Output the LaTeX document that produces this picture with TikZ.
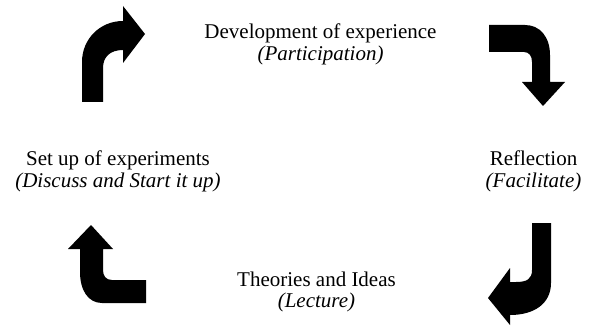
\documentclass[tikz,border=0pt]{standalone}
\usepackage{fontspec}
\setmainfont{Liberation Serif}
\begin{document}
\begin{tikzpicture}[x=1pt,y=-1pt,
  lbl/.style={inner sep=0pt,anchor=base,font=\fontsize{21}{25}\selectfont},
  ilbl/.style={lbl,font=\fontsize{21}{25}\selectfont\itshape},
  bigarrow/.style={fill=black,draw=none}]
\useasboundingbox (0,0) rectangle (589,326);
% text labels
\node[lbl]  (dev)  at (320.5,39) {Development of experience};
\node[ilbl] (devi) at (320.5,60.5) {(Participation)};
\node[lbl]  (set)  at (118,165.5) {Set up of experiments};
\node[ilbl] (seti) at (118,187) {(Discuss and Start it up)};
\node[lbl]  (ref)  at (533.5,165.5) {Reflection};
\node[ilbl] (refi) at (533.5,187) {(Facilitate)};
\node[lbl]  (the)  at (316.5,286) {Theories and Ideas};
\node[ilbl] (thei) at (316.5,307) {(Lecture)};
% arrow 1: top-left, up then right
\fill[bigarrow] (82,102) -- (82,62) .. controls (82,39) and (100,21) .. (123,21)
  -- (123,6) -- (145,34) -- (123,63) -- (123,50)
  .. controls (110,50) and (103,57) .. (103,68) -- (103,102) -- cycle;
% arrow 2: top-right, right then down
\fill[bigarrow] (489,25) -- (525,25) .. controls (540,25) and (550,37) .. (550,55)
  -- (550,82) -- (565,82) -- (543,106) -- (522,82) -- (532,82) -- (532,62)
  .. controls (532,56) and (529,52) .. (524,52) -- (489,52) -- cycle;
% arrow 3: bottom-right, down then left
\fill[bigarrow] (532,223) -- (551,223) -- (551,283) .. controls (551,303) and (535,315) .. (510,315)
  -- (510,325) -- (488,298) -- (510,268) -- (510,282) -- (516,282)
  .. controls (527,282) and (532,279) .. (532,270) -- cycle;
% arrow 4: bottom-left, left then up
\fill[bigarrow] (146,280) -- (146,303) -- (102,303) .. controls (88,303) and (80,290) .. (80,272)
  -- (80,249) -- (68,249) -- (91,225) -- (113,249) -- (103,249) -- (103,270)
  .. controls (103,276) and (106,280) .. (112,280) -- cycle;
\end{tikzpicture}
\end{document}
